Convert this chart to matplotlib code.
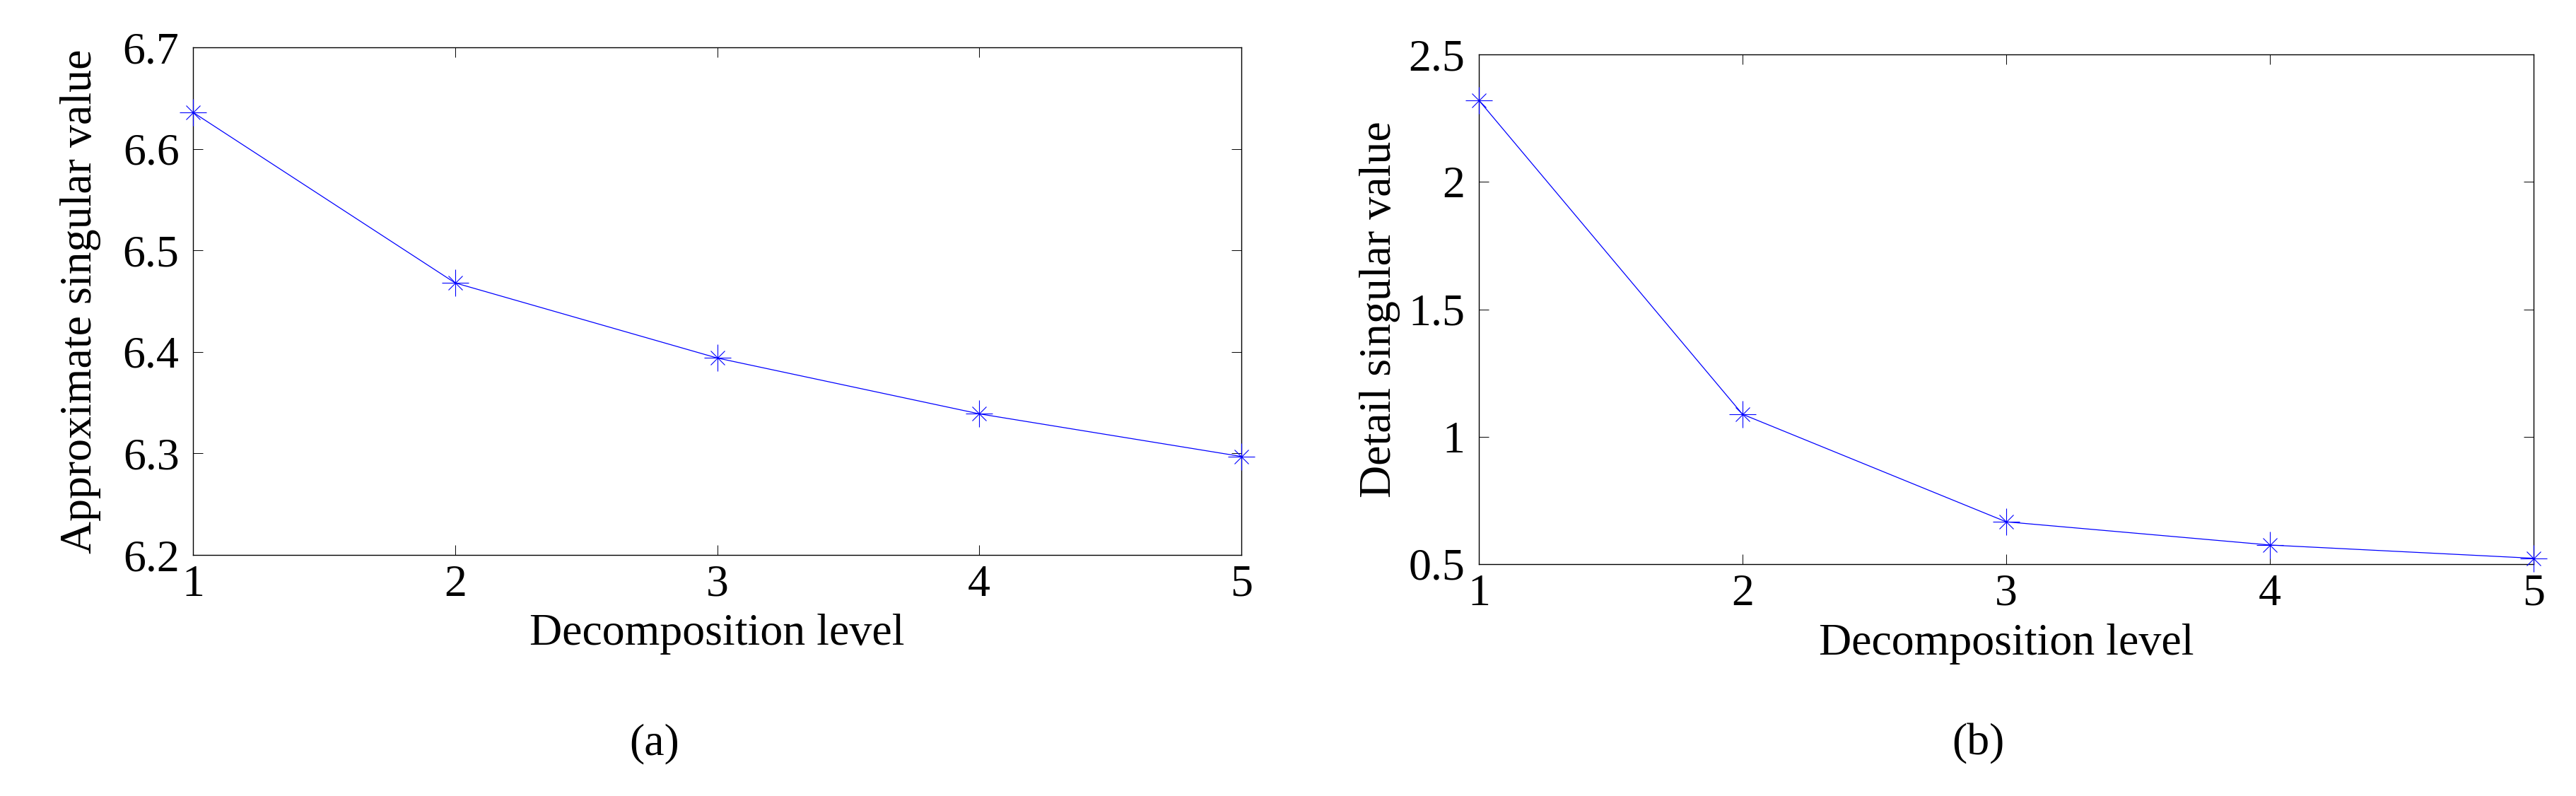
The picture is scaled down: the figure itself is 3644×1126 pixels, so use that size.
import matplotlib
matplotlib.use("Agg")
import matplotlib.pyplot as plt

# data
levels = [1, 2, 3, 4, 5]
approx_sv = [6.636, 6.468, 6.394, 6.339, 6.297]
detail_sv = [2.320, 1.088, 0.666, 0.575, 0.523]

approx_ticks = [6.2, 6.3, 6.4, 6.5, 6.6, 6.7]
approx_labels = ["6.2", "6.3", "6.4", "6.5", "6.6", "6.7"]
detail_ticks = [0.5, 1.0, 1.5, 2.0, 2.5]
detail_labels = ["0.5", "1", "1.5", "2", "2.5"]

W, H, DPI = 3644, 1126, 100
FS = 46
BLUE = "#0000ff"

plt.rcParams["font.family"] = ["Liberation Serif", "DejaVu Serif"]
plt.rcParams["font.size"] = FS

fig = plt.figure(figsize=(W / DPI, H / DPI), dpi=DPI, facecolor="white")


def px_axes(x0, y0, x1, y1):
    # pixel box (top-left origin) -> figure fraction
    return fig.add_axes([x0 / W, 1 - y1 / H, (x1 - x0) / W, (y1 - y0) / H])


def style(ax, yt, yl, ylim):
    ax.set_xlim(1, 5)
    ax.set_ylim(*ylim)
    ax.set_xticks(levels)
    ax.set_xticklabels([str(v) for v in levels])
    ax.set_yticks(yt)
    ax.set_yticklabels(yl)
    ax.tick_params(which="both", direction="in", top=True, right=True,
                   length=10, width=0.7, labelsize=FS)
    ax.tick_params(axis="y", pad=14)
    ax.tick_params(axis="x", pad=10)
    for s in ax.spines.values():
        s.set_linewidth(1.0)


def draw(ax, y):
    ax.plot(levels, y, color=BLUE, lw=0.9, marker="+", ms=27, mew=0.8,
            clip_on=False, zorder=3)
    ax.plot(levels, y, color=BLUE, ls="none", marker="x", ms=14, mew=0.8,
            clip_on=False, zorder=3)


# (a) approximate singular values
ax1 = px_axes(273, 67, 1756, 785)
draw(ax1, approx_sv)
style(ax1, approx_ticks, approx_labels, (6.2, 6.7))
ax1.set_ylabel("Approximate singular value", fontsize=FS, labelpad=22)
ax1.set_xlabel("Decomposition level", fontsize=FS, labelpad=8)

# (b) detail singular values
ax2 = px_axes(2092, 77, 3584, 798)
draw(ax2, detail_sv)
style(ax2, detail_ticks, detail_labels, (0.5, 2.5))
ax2.set_ylabel("Detail singular value", fontsize=FS, labelpad=8)
ax2.set_xlabel("Decomposition level", fontsize=FS, labelpad=9)

fig.text(926 / W, 1 - 1052 / H, "(a)", ha="center", va="center", fontsize=FS)
fig.text(2798 / W, 1 - 1052 / H, "(b)", ha="center", va="center", fontsize=FS)

fig.savefig("out.png", dpi=DPI, facecolor="white")
